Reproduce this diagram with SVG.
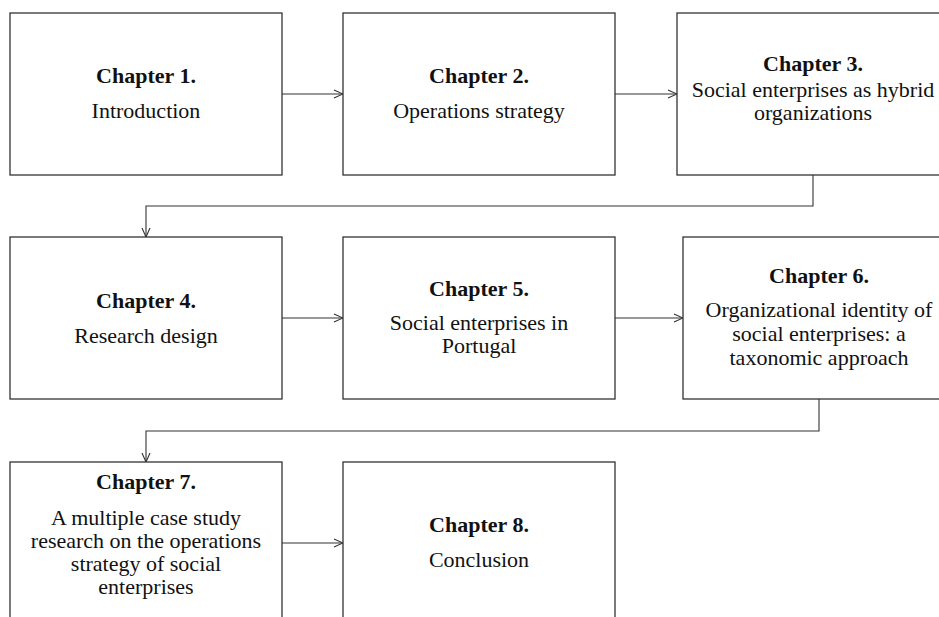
<svg xmlns="http://www.w3.org/2000/svg" width="939" height="617" viewBox="0 0 939 617">
  <style>
    .box { fill: #ffffff; stroke: #333333; stroke-width: 1.3; }
    .link { fill: none; stroke: #333333; stroke-width: 1.1; }
    text { font-family: "Liberation Serif", "Times New Roman", serif; font-size: 22px; fill: #111111; text-anchor: middle; }
    .title { font-weight: bold; }
  </style>
  <defs>
    <marker id="arrow" viewBox="0 0 10 10" refX="10" refY="5" markerWidth="10" markerHeight="10" markerUnits="userSpaceOnUse" orient="auto">
      <path d="M1,1 L10,5 L1,9" fill="none" stroke="#333333" stroke-width="1.1"/>
    </marker>
  </defs>
  <rect width="939" height="617" fill="#ffffff"/>

  <g id="connectors">
    <line class="link" x1="282" y1="94" x2="343" y2="94" marker-end="url(#arrow)"/>
    <line class="link" x1="615" y1="94" x2="677" y2="94" marker-end="url(#arrow)"/>
    <polyline class="link" points="813,175 813,206 146,206 146,237" marker-end="url(#arrow)"/>
    <line class="link" x1="282" y1="318" x2="343" y2="318" marker-end="url(#arrow)"/>
    <line class="link" x1="615" y1="318" x2="683" y2="318" marker-end="url(#arrow)"/>
    <polyline class="link" points="819,399 819,431 146,431 146,462" marker-end="url(#arrow)"/>
    <line class="link" x1="282" y1="543" x2="343" y2="543" marker-end="url(#arrow)"/>
  </g>

  <g id="chapter1">
    <rect class="box" x="10" y="13" width="272" height="162"/>
    <text class="title" x="146" y="83">Chapter 1.</text>
    <text x="146" y="117.5">Introduction</text>
  </g>

  <g id="chapter2">
    <rect class="box" x="343" y="13" width="272" height="162"/>
    <text class="title" x="479" y="83">Chapter 2.</text>
    <text x="479" y="117.5">Operations strategy</text>
  </g>

  <g id="chapter3">
    <rect class="box" x="677" y="13" width="272" height="162"/>
    <text class="title" x="813" y="71">Chapter 3.</text>
    <text x="813" y="96.5">Social enterprises as hybrid</text>
    <text x="813" y="120">organizations</text>
  </g>

  <g id="chapter4">
    <rect class="box" x="10" y="237" width="272" height="162"/>
    <text class="title" x="146" y="308">Chapter 4.</text>
    <text x="146" y="342.7">Research design</text>
  </g>

  <g id="chapter5">
    <rect class="box" x="343" y="237" width="272" height="162"/>
    <text class="title" x="479" y="296">Chapter 5.</text>
    <text x="479" y="330">Social enterprises in</text>
    <text x="479" y="353">Portugal</text>
  </g>

  <g id="chapter6">
    <rect class="box" x="683" y="237" width="272" height="162"/>
    <text class="title" x="819" y="283.3">Chapter 6.</text>
    <text x="819" y="317">Organizational identity of</text>
    <text x="819" y="341">social enterprises: a</text>
    <text x="819" y="365">taxonomic approach</text>
  </g>

  <g id="chapter7">
    <rect class="box" x="10" y="462" width="272" height="162"/>
    <text class="title" x="146" y="489">Chapter 7.</text>
    <text x="146" y="525">A multiple case study</text>
    <text x="146" y="548">research on the operations</text>
    <text x="146" y="571">strategy of social</text>
    <text x="146" y="594">enterprises</text>
  </g>

  <g id="chapter8">
    <rect class="box" x="343" y="462" width="272" height="162"/>
    <text class="title" x="479" y="532.3">Chapter 8.</text>
    <text x="479" y="567.3">Conclusion</text>
  </g>
</svg>
